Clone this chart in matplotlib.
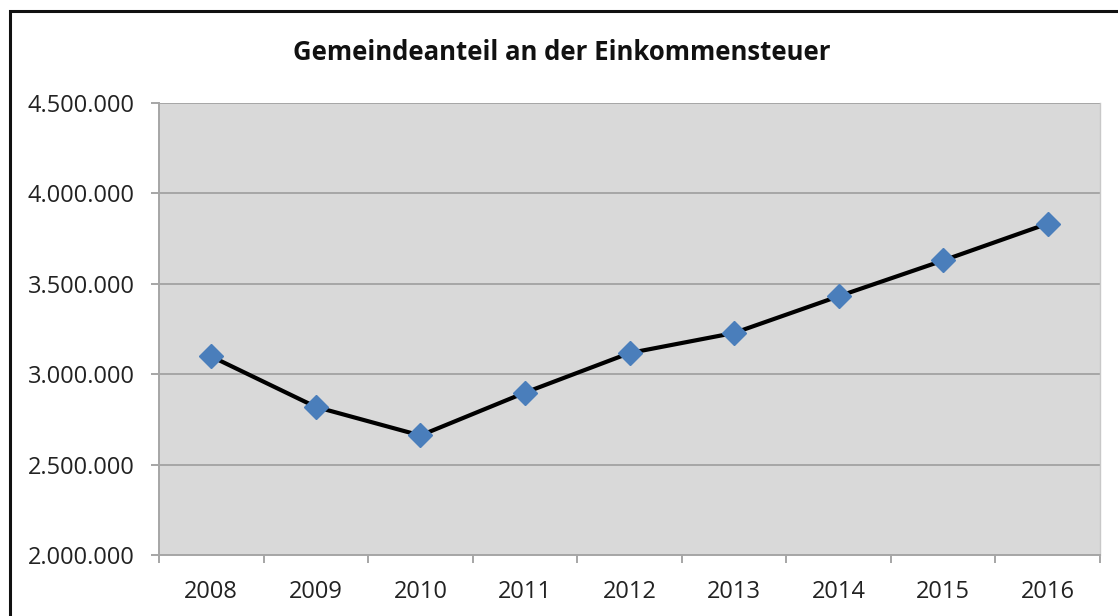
import matplotlib
matplotlib.use("Agg")
import matplotlib.pyplot as plt
from matplotlib.patches import Rectangle
from matplotlib.ticker import FuncFormatter, FixedLocator

years = ["2008", "2009", "2010", "2011", "2012", "2013", "2014", "2015", "2016"]
values = [3098000, 2819000, 2661000, 2898000, 3117000, 3228000, 3431000, 3629000, 3833000]
title = "Gemeindeanteil an der Einkommensteuer"

plt.rcParams['font.family'] = ['Open Sans', 'DejaVu Sans']

W, H = 1118, 616
fig = plt.figure(figsize=(W / 100, H / 100), dpi=100)
ax = fig.add_axes([159 / W, 1 - 555 / H, (1100 - 159) / W, (555 - 103) / H])
ax.set_facecolor('#d9d9d9')

x = list(range(len(years)))
ax.plot(x, values, color='black', lw=3.0, zorder=3, solid_joinstyle='round')
ax.plot(x, values, ls='none', marker='D', ms=12, color='#4a7ebb', zorder=4)

ax.set_xlim(-0.5, len(years) - 0.5)
ax.set_ylim(2000000, 4500000)
ax.yaxis.set_major_locator(FixedLocator([2000000, 2500000, 3000000, 3500000, 4000000, 4500000]))
ax.yaxis.set_major_formatter(FuncFormatter(lambda v, p: f"{int(v):,}".replace(",", ".")))
ax.grid(axis='y', color='#a6a6a6', lw=1.4, zorder=1)
ax.set_axisbelow(True)

ax.set_xticks(x)
ax.set_xticklabels(years)
ax.set_xticks([i - 0.5 for i in range(len(years) + 1)], minor=True)
ax.tick_params(axis='x', which='major', length=0, pad=18, labelsize=17, colors='#222222')
ax.tick_params(axis='x', which='minor', length=5.8, width=1.4, color='#a6a6a6')
ax.tick_params(axis='y', length=5.8, width=1.4, color='#a6a6a6', pad=11.5, labelsize=17, labelcolor='#222222')

ax.spines['top'].set_visible(False)
ax.spines['left'].set_color('#a6a6a6')
ax.spines['left'].set_linewidth(1.4)
ax.spines['right'].set_color('#c8c8c8')
ax.spines['right'].set_linewidth(1.0)
ax.spines['bottom'].set_color('#a6a6a6')
ax.spines['bottom'].set_linewidth(1.4)

fig.text(562 / W, 1 - 52 / H, title, ha='center', va='center', fontsize=18.5, fontweight='bold', color='#111111')

fig.patches.append(Rectangle((9.5 / W, -0.1), 1.2, 1 - 10.5 / H + 0.1, transform=fig.transFigure,
                             fill=False, edgecolor='#111111', lw=2.2, zorder=10))

fig.savefig("out.png", dpi=100)
